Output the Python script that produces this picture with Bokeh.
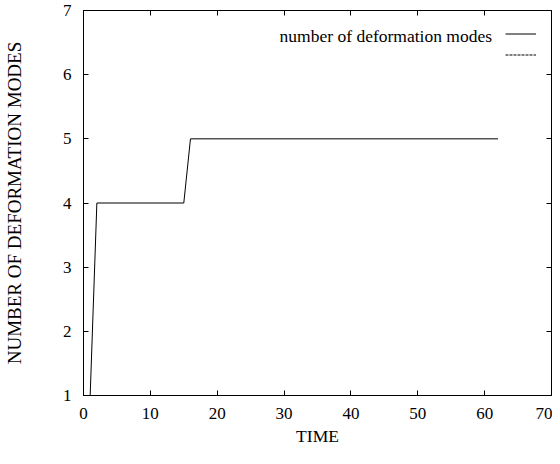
from bokeh.plotting import figure
from bokeh.models import (Range1d, LinearAxis, SingleIntervalTicker, Legend,
                          LegendItem, Label, ColumnDataSource, CustomJSTickFormatter)
from bokeh.embed import file_html
from bokeh.resources import INLINE

# ---- data ----
time = [1, 2, 15, 16, 62]
modes = [1, 4, 4, 5, 5]
series_label = "number of deformation modes"
x_label = "TIME"
y_label = "NUMBER OF DEFORMATION MODES"
x_min, x_max, x_step = 0, 70, 10
y_min, y_max, y_step = 1, 7, 1

FONT = "Liberation Serif"

p = figure(width=552, height=448, output_backend="svg", toolbar_location=None,
           x_range=Range1d(x_min, x_max), y_range=Range1d(y_min, y_max),
           min_border_left=83, min_border_right=1, min_border_top=10,
           min_border_bottom=50, x_axis_location=None, y_axis_location=None)
p.grid.visible = False
p.outline_line_color = "black"
p.outline_line_width = 1
p.background_fill_color = "white"
p.border_fill_color = "white"


def style_axis(ax, ticker, show_labels):
    ax.ticker = ticker
    ax.axis_line_color = "black"
    ax.major_tick_line_color = "black"
    ax.major_tick_in = 5
    ax.major_tick_out = 0
    ax.minor_tick_line_color = None
    ax.major_label_text_font = FONT
    ax.major_label_text_color = "black"
    ax.major_label_text_line_height = 1.0
    ax.axis_label_text_line_height = 1.0
    if show_labels:
        ax.major_label_text_font_size = "17px"
    else:
        ax.formatter = CustomJSTickFormatter(code="return ''")
        ax.major_label_text_font_size = "1px"
        ax.major_label_standoff = 0


xb = LinearAxis(axis_label=x_label)
style_axis(xb, SingleIntervalTicker(interval=x_step), True)
xb.major_label_standoff = 8
xb.axis_label_standoff = 4
xb.axis_label_text_font = FONT
xb.axis_label_text_font_size = "17.5px"
xb.axis_label_text_font_style = "normal"
xb.axis_label_text_color = "black"
p.add_layout(xb, "below")

yl = LinearAxis(axis_label=y_label)
style_axis(yl, SingleIntervalTicker(interval=y_step), True)
yl.major_label_standoff = 8
yl.axis_label_standoff = 35
yl.axis_label_text_font = FONT
yl.axis_label_text_font_size = "19px"
yl.axis_label_text_font_style = "normal"
yl.axis_label_text_color = "black"
p.add_layout(yl, "left")

# mirrored ticks on the top edge
xt = LinearAxis()
style_axis(xt, SingleIntervalTicker(interval=x_step), False)
p.add_layout(xt, "above")

# mirrored ticks on the right edge: a left-side axis pinned at x_max
yr = LinearAxis(fixed_location=x_max)
style_axis(yr, SingleIntervalTicker(interval=y_step), False)
yr.major_tick_in = 0
yr.major_tick_out = 5
p.add_layout(yr, "left")

src = ColumnDataSource(dict(x=time, y=modes))
r1 = p.line("x", "y", source=src, line_color="black", line_width=1)
# second (untitled, empty) series: only its dashed key sample is visible
r2 = p.line(x=[float("nan")], y=[float("nan")], line_color="black",
            line_width=1, line_dash="3 1")

legend = Legend(items=[LegendItem(label="\u00a0", renderers=[r1]),
                       LegendItem(label="\u00a0", renderers=[r2])],
                location=(422, 331), margin=0, padding=0, spacing=2,
                glyph_width=31, glyph_height=19, label_width=0, label_height=19,
                label_standoff=0, label_text_font_size="1px",
                border_line_color=None, background_fill_alpha=0)
p.add_layout(legend)

p.add_layout(Label(x=61.1, y=6.61, text=series_label, text_align="right",
                   text_baseline="middle", text_font=FONT,
                   text_font_size="17.5px", text_color="black"))

open("out.html", "w").write(file_html(p, INLINE))
